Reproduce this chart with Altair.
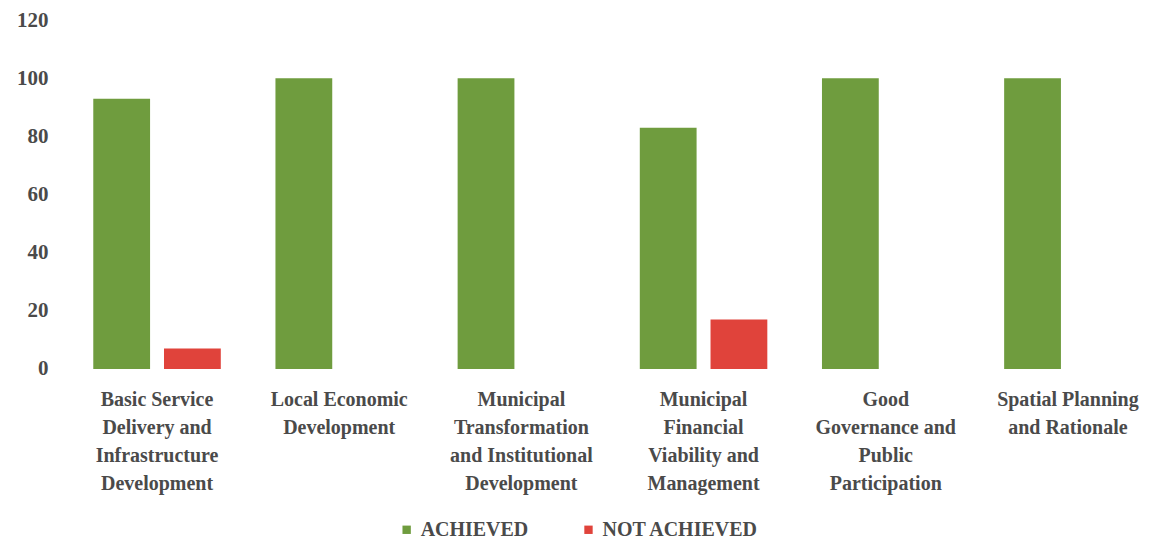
import altair as alt
import pandas as pd

categories = [
    "Basic Service\nDelivery and\nInfrastructure\nDevelopment",
    "Local Economic\nDevelopment",
    "Municipal\nTransformation\nand Institutional\nDevelopment",
    "Municipal\nFinancial\nViability and\nManagement",
    "Good\nGovernance and\nPublic\nParticipation",
    "Spatial Planning\nand Rationale",
]
achieved = [93, 100, 100, 83, 100, 100]
not_achieved = [7, 0, 0, 17, 0, 0]
series = ["ACHIEVED", "NOT ACHIEVED"]
colors = ["#6f9c3e", "#e0433b"]

rows = []
for c, a, n in zip(categories, achieved, not_achieved):
    rows.append({"cat": c, "series": series[0], "value": a})
    rows.append({"cat": c, "series": series[1], "value": n})
df = pd.DataFrame(rows)

FONT = "Liberation Serif, Times New Roman, serif"

chart = alt.Chart(df).mark_bar().encode(
    x=alt.X("cat:N", sort=categories, title=None,
            scale=alt.Scale(paddingInner=0.3, paddingOuter=0.15, range=[0, 1094]),
            axis=alt.Axis(labelAngle=0, labelExpr="split(datum.label, '\\n')",
                          labelFont=FONT, labelFontSize=20, labelFontWeight="bold",
                          labelColor="#4a4a4a", labelLineHeight=28, labelPadding=21,
                          labelLimit=300, domain=False, ticks=False)),
    xOffset=alt.XOffset("series:N", sort=series,
                        scale=alt.Scale(paddingInner=0.197, paddingOuter=0)),
    y=alt.Y("value:Q", title=None,
            scale=alt.Scale(domain=[0, 120]),
            axis=alt.Axis(values=[0, 20, 40, 60, 80, 100, 120], grid=False,
                          domain=False, ticks=False, labelPadding=18,
                          labelFont=FONT, labelFontSize=21, labelFontWeight="bold",
                          labelColor="#4a4a4a")),
    color=alt.Color("series:N", sort=series,
                    scale=alt.Scale(domain=series, range=colors),
                    legend=alt.Legend(title=None, orient="none", direction="horizontal",
                                      legendX=331, legendY=500,
                                      symbolType="square", symbolSize=70,
                                      symbolStrokeWidth=0, columnPadding=50,
                                      labelFont=FONT, labelFontSize=20,
                                      labelFontWeight="bold", labelColor="#4a4a4a",
                                      labelOffset=4)),
).properties(
    width=1086, height=349,
    autosize=alt.AutoSizeParams(type="none"),
    padding={"left": 58, "top": 12, "right": 0, "bottom": 175},
).configure_view(stroke=None)

chart.save("out.html", embed_options={"renderer": "svg", "actions": False})
